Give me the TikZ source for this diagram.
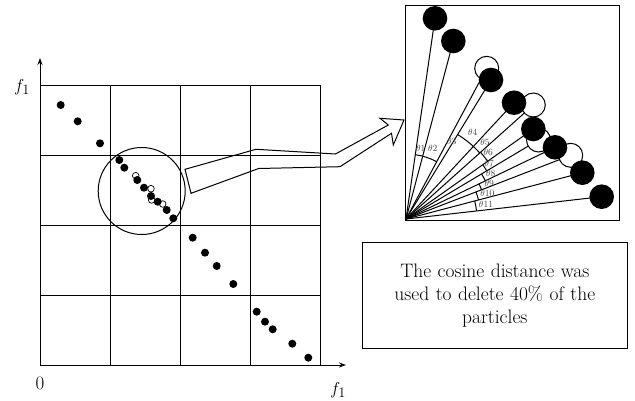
\documentclass[tikz,border=0pt]{standalone}
\usepackage{tikz}
\usetikzlibrary{arrows.meta}

\begin{document}
\begin{tikzpicture}[x=1pt, y=1pt, line width=1pt,
        pdot/.style={fill=black, draw=none},
        odot/.style={fill=white, draw=black, line width=0.7pt},
        axlab/.style={font=\fontsize{19}{22}\selectfont},
        anglab/.style={font=\fontsize{9.5}{11}\selectfont, text=black!75, inner sep=0pt}]
    \useasboundingbox (0,0) rectangle (635,400);

    % Grid of cells
    \foreach \i in {0,...,4} {
        \draw (40+70*\i,35) -- (40+70*\i,315);
        \draw (40,35+70*\i) -- (320,35+70*\i);
    }

    % Axes
    \coordinate (O0) at (40,35);
    \coordinate (xend) at (346,35);
    \coordinate (yend) at (40,342);
    \draw[-{Stealth[length=7pt, width=5pt]}] (O0) -- (xend);
    \draw[-{Stealth[length=7pt, width=5pt]}] (O0) -- (yend);
    \node[axlab] (ylab) at (22,313) {$f_1$};
    \node[axlab] (xlab) at (338,10) {$f_1$};
    \node[axlab] (zero) at (40,17) {0};

    % Particles, open ones first
    \filldraw[odot] (135.7,224.3) circle (3.3);
    \filldraw[odot] (151,211.3) circle (3.3);
    \filldraw[odot] (151.7,200) circle (3.3);
    \filldraw[odot] (162.7,196) circle (3.3);
    \filldraw[pdot] (60.7,295) circle (4);
    \filldraw[pdot] (77.7,278.7) circle (4);
    \filldraw[pdot] (100,256.7) circle (4);
    \filldraw[pdot] (119.3,240) circle (4);
    \filldraw[pdot] (124.3,232.3) circle (4);
    \filldraw[pdot] (137.3,220) circle (4);
    \filldraw[pdot] (144,212.3) circle (4);
    \filldraw[pdot] (151,204) circle (4);
    \filldraw[pdot] (157.7,198.3) circle (4);
    \filldraw[pdot] (166.7,190) circle (4);
    \filldraw[pdot] (173.3,181.7) circle (4);
    \filldraw[pdot] (192.7,162.3) circle (4);
    \filldraw[pdot] (205,147.3) circle (4);
    \filldraw[pdot] (216.7,134) circle (4);
    \filldraw[pdot] (233.3,116) circle (4);
    \filldraw[pdot] (256.7,88.3) circle (4);
    \filldraw[pdot] (265,78.3) circle (4);
    \filldraw[pdot] (272.7,70.7) circle (4);
    \filldraw[pdot] (292.3,56.3) circle (4);
    \filldraw[pdot] (308.3,42.3) circle (4);

    % Zoomed region
    \draw (141.7,209) circle (43.5);

    % Hollow arrow to the close-up
    \draw (185,230.7) -- (256,250.7) -- (335.5,246) -- (388.3,275) -- (380,281.7)
        -- (404,280) -- (393.3,255) -- (391.5,266.7) -- (340,233.3)
        -- (258.7,231.5) -- (191,206.7) -- cycle;

    % Close-up box
    \draw (405,179.5) rectangle (619.5,394);
    \coordinate (O) at (406,181);
    \coordinate (c1) at (435,381.7);
    \coordinate (c2) at (453.3,359);
    \coordinate (o1) at (486.7,331.7);
    \coordinate (c3) at (491,320);
    \coordinate (c4) at (514,297.3);
    \coordinate (o2) at (533.3,295);
    \coordinate (c5) at (533.3,271);
    \coordinate (o3) at (538.5,260);
    \coordinate (c6) at (555,252.7);
    \coordinate (o4) at (570.7,244.7);
    \coordinate (c7) at (582.3,227.3);
    \coordinate (c8) at (601.7,203.3);

    % Rays from the corner
    \foreach \p in {c1,c2,o1,c3,c4,o2,c5,o3,c6,o4,c7,c8}
        \draw (O) -- (\p);

    % Angle arcs
    \draw (O) ++(81.8:65) arc[start angle=81.8, end angle=61.8, radius=65];
    \draw (O) ++(58.5:99) arc[start angle=58.5, end angle=41.8, radius=99];
    \foreach \a/\b/\r in {41.8/35.3/100, 35.3/30.8/94, 30.8/25.7/88,
                          25.7/21.1/81, 21.1/14.7/75, 14.7/6.5/71}
        \draw (O) ++(\a:\r) arc[start angle=\a, end angle=\b, radius=\r];

    % Particles of the close-up
    \foreach \p in {o1,o2,o3,o4}
        \filldraw[fill=white, draw=black] (\p) circle (12);
    \foreach \p in {c1,c2,c3,c4,c5,c6,c7,c8}
        \filldraw[pdot] (\p) circle (12.3);

    % Angle labels
    \node[anglab] (t1) at (420.7,251.7) {$\theta$1};
    \node[anglab] (t2) at (432.7,251.7) {$\theta$2};
    \node[anglab] (t3) at (451.7,258.3) {$\theta$3};
    \node[anglab] (t4) at (472.7,267.3) {$\theta$4};
    \node[anglab] (t5) at (485,258) {$\theta$5};
    \node[anglab] (t6) at (488.3,247.5) {$\theta$6};
    \node[anglab] (t7) at (489.3,237) {$\theta$7};
    \node[anglab] (t8) at (490.7,227) {$\theta$8};
    \node[anglab] (t9) at (489.3,217) {$\theta$9};
    \node[anglab] (t10) at (487.3,206.5) {$\theta$10};
    \node[anglab] (t11) at (486,195.5) {$\theta$11};

    % Note
    \node[draw, minimum width=265pt, minimum height=106pt, text width=258pt,
          align=center, font=\fontsize{19.5}{23}\selectfont] (note) at (494.8,104.7)
        {The cosine distance was\\ used to delete 40\% of the\\ particles};
\end{tikzpicture}
\end{document}
